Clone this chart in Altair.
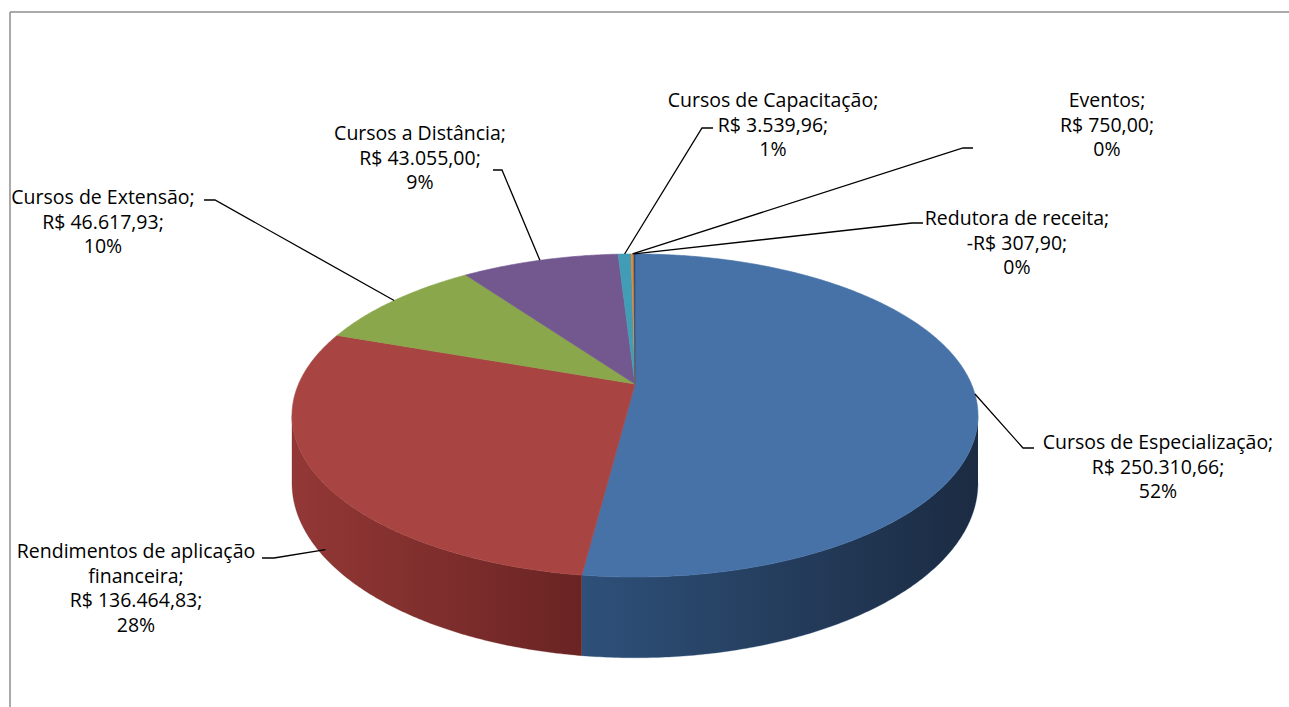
import math
import altair as alt
import pandas as pd

# ---------------- data ----------------
categories = [
    "Cursos de Especialização",
    "Rendimentos de aplicação financeira",
    "Cursos de Extensão",
    "Cursos a Distância",
    "Cursos de Capacitação",
    "Eventos",
    "Redutora de receita",
]
values = [250310.66, 136464.83, 46617.93, 43055.00, 3539.96, 750.00, -307.90]
colors = ["#4672A8", "#A84442", "#8BA74C", "#735890", "#419DB5", "#E0883A", "#2C4D75"]
wall_colors = {
    0: ["#2E5079", "#1B2B42"],
    1: ["#933836", "#6A2423"],
}

# ---------------- layout (positions, not data) ----------------
W, H = 1289, 707
CX, CY = 635, 384          # pie centre on screen
RX, RY = 336.4, 155.4      # radii of the tilted top face
K = 0.195                  # perspective factor
DEPTH = 65                 # thickness of the pie
FONT, FS, LH = "Open Sans", 19.5, 24.5

# label block: centre x, first-line y, name split, leader (anchor depth, anchor pos, elbow, end)
label_layout = {
    0: dict(cx=1158, y0=443, split=None, depth=0.0, pos=None, elbow=(1023, 448), end=(1034, 448)),
    1: dict(cx=136, y0=552, split="aplicação", depth=0.88, pos=0.652, elbow=(274, 558), end=(262, 558)),
    2: dict(cx=103, y0=198, split=None, depth=0.0, pos=None, elbow=(215, 200), end=(204, 200)),
    3: dict(cx=420, y0=134, split=None, depth=0.0, pos=None, elbow=(502, 170), end=(493, 170)),
    4: dict(cx=773, y0=101, split=None, depth=0.0, pos=None, elbow=(702, 128), end=(713, 128)),
    5: dict(cx=1107, y0=101, split=None, depth=0.0, pos=None, elbow=(963, 148), end=(973, 148)),
    6: dict(cx=1017, y0=219, split=None, depth=0.0, pos=None, elbow=(912, 223), end=(923, 223)),
}


def proj(frac, depth=0.0):
    t = 2 * math.pi * frac
    s = 1.0 / (1.0 + K * math.cos(t))
    return CX + RX * math.sin(t) * s, CY - RY * math.cos(t) * s + DEPTH * s * depth


def brl(v):
    s = f"{abs(v):,.2f}".replace(",", "X").replace(".", ",").replace("X", ".")
    return ("-R$ " if v < 0 else "R$ ") + s + ";"


abs_vals = [abs(v) for v in values]
total_abs = sum(abs_vals)
total = sum(values)
starts, ends = [], []
acc = 0.0
for a in abs_vals:
    starts.append(acc / total_abs)
    acc += a
    ends.append(acc / total_abs)

xs = alt.Scale(domain=[0, W], nice=False, zero=False)
ys = alt.Scale(domain=[0, H], nice=False, zero=False, reverse=True)


def poly_chart(pts, fill, stroke=None, sw=0.6):
    df = pd.DataFrame({"x": [p[0] for p in pts], "y": [p[1] for p in pts], "order": list(range(len(pts)))})
    return alt.Chart(df).mark_line(
        fill=fill, stroke=stroke if stroke is not None else fill, strokeWidth=sw, interpolate="linear"
    ).encode(
        x=alt.X("x:Q", scale=xs, axis=None),
        y=alt.Y("y:Q", scale=ys, axis=None),
        order="order:Q",
    )


def arc(a, b, depth=0.0):
    n = max(2, int((b - a) * 720))
    return [proj(a + (b - a) * i / n, depth) for i in range(n + 1)]


layers = []

# side walls (visible front part)
f1 = math.acos(-K) / (2 * math.pi)
f2 = 1 - f1
for i in range(len(values)):
    a, b = max(starts[i], f1), min(ends[i], f2)
    if b <= a:
        continue
    pts = arc(a, b, 0.0) + arc(a, b, 1.0)[::-1]
    c0, c1 = wall_colors.get(i, [colors[i], colors[i]])
    grad = alt.LinearGradient(
        gradient="linear",
        stops=[alt.GradientStop(offset=0, color=c0), alt.GradientStop(offset=1, color=c1)],
        x1=0, x2=1, y1=0, y2=0,
    )
    layers.append(poly_chart(pts, grad, stroke=c0 if i == 0 else c1, sw=0.3))

# top face slices
for i in range(len(values)):
    pts = [(CX, CY)] + arc(starts[i], ends[i]) + [(CX, CY)]
    layers.append(poly_chart(pts, colors[i]))

# labels
rows = []
lead = []
for i, name in enumerate(categories):
    L = label_layout[i]
    if L["split"]:
        head, tail = name.split(L["split"])
        name_lines = [head + L["split"], tail.strip() + ";"]
    else:
        name_lines = [name + ";"]
    pct = f"{round(abs(values[i]) / abs(total) * 100)}%"
    lines = name_lines + [brl(values[i]), pct]
    for j, ln in enumerate(lines):
        rows.append({"x": L["cx"], "y": L["y0"] + j * LH, "text": ln})
    pos = L["pos"] if L["pos"] is not None else (starts[i] + ends[i]) / 2
    ax, ay = proj(pos, L["depth"])
    for k, p in enumerate([(ax, ay), L["elbow"], L["end"]]):
        lead.append({"x": p[0], "y": p[1], "order": k, "id": i})

lead_chart = alt.Chart(pd.DataFrame(lead)).mark_line(color="black", strokeWidth=1.3).encode(
    x=alt.X("x:Q", scale=xs, axis=None),
    y=alt.Y("y:Q", scale=ys, axis=None),
    order="order:Q",
    detail="id:N",
)
text_chart = alt.Chart(pd.DataFrame(rows)).mark_text(
    font=FONT, fontSize=FS, color="#000000", align="center", baseline="middle"
).encode(
    x=alt.X("x:Q", scale=xs, axis=None),
    y=alt.Y("y:Q", scale=ys, axis=None),
    text="text:N",
)

border_top = alt.Chart(pd.DataFrame({"a": [0]})).mark_rule(color="#8e8e8e", strokeWidth=1.5).encode(
    x=alt.value(10), x2=alt.value(W), y=alt.value(12)
)
border_left = alt.Chart(pd.DataFrame({"a": [0]})).mark_rule(color="#8e8e8e", strokeWidth=1.5).encode(
    x=alt.value(10), y=alt.value(12), y2=alt.value(H)
)

chart = alt.layer(*layers, lead_chart, text_chart, border_top, border_left).properties(
    width=W, height=H, padding=0, autosize=alt.AutoSizeParams(type="none"), background="white"
).configure_view(stroke=None)

chart.save("out.html", embed_options={"renderer": "svg", "actions": False})
